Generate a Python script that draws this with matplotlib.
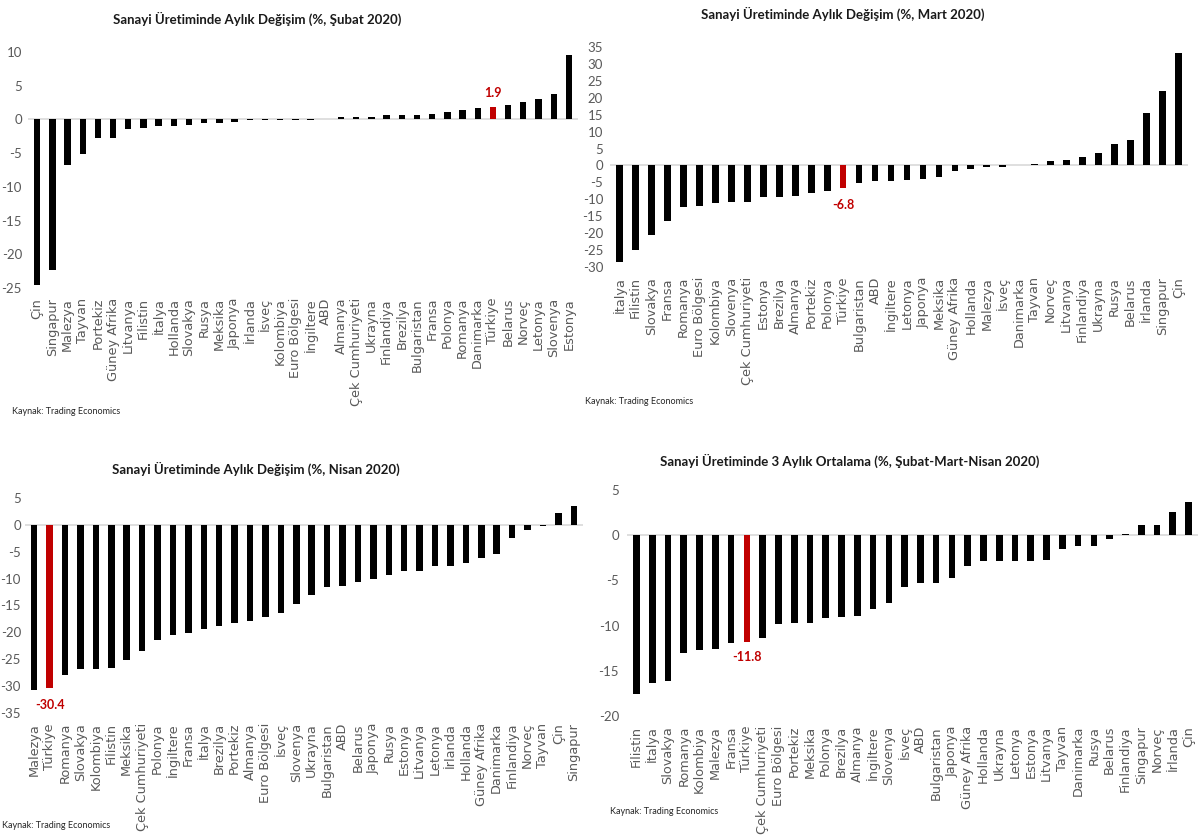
import numpy as np
import matplotlib
matplotlib.use('Agg')
import matplotlib.pyplot as plt

plt.rcParams['axes.unicode_minus'] = False

W, H = 1199, 836

# Şubat 2020
feb_names = ['Çin', 'Singapur', 'Malezya', 'Tayvan', 'Portekiz', 'Güney Afrika', 'Litvanya',
             'Filistin', 'İtalya', 'Hollanda', 'Slovakya', 'Rusya', 'Meksika', 'Japonya',
             'İrlanda', 'İsveç', 'Kolombiya', 'Euro Bölgesi', 'İngiltere', 'ABD', 'Almanya',
             'Çek Cumhuriyeti', 'Ukrayna', 'Finlandiya', 'Brezilya', 'Bulgaristan', 'Fransa',
             'Polonya', 'Romanya', 'Danimarka', 'Türkiye', 'Belarus', 'Norveç', 'Letonya',
             'Slovenya', 'Estonya']
feb_vals = [-24.5, -22.4, -6.7, -5.1, -2.8, -2.7, -1.4, -1.3, -1.0, -1.0, -0.9, -0.6, -0.6,
            -0.4, -0.1, -0.1, -0.1, -0.1, -0.1, 0.1, 0.3, 0.3, 0.3, 0.6, 0.6, 0.7, 0.8,
            1.1, 1.4, 1.7, 1.9, 2.2, 2.6, 3.0, 3.8, 9.5]

# Mart 2020
mar_names = ['İtalya', 'Filistin', 'Slovakya', 'Fransa', 'Romanya', 'Euro Bölgesi', 'Kolombiya',
             'Slovenya', 'Çek Cumhuriyeti', 'Estonya', 'Brezilya', 'Almanya', 'Portekiz',
             'Polonya', 'Türkiye', 'Bulgaristan', 'ABD', 'İngiltere', 'Letonya', 'Japonya',
             'Meksika', 'Güney Afrika', 'Hollanda', 'Malezya', 'İsveç', 'Danimarka', 'Tayvan',
             'Norveç', 'Litvanya', 'Finlandiya', 'Ukrayna', 'Rusya', 'Belarus', 'İrlanda',
             'Singapur', 'Çin']
mar_vals = [-28.6, -24.9, -20.5, -16.3, -12.4, -11.9, -11.1, -10.9, -10.9, -9.2, -9.2, -9.0,
            -8.0, -7.5, -6.8, -5.1, -4.6, -4.6, -4.3, -4.1, -3.5, -1.5, -1.1, -0.4, -0.4,
            0.0, 0.5, 1.3, 1.6, 2.5, 3.6, 6.2, 7.4, 15.4, 21.9, 33.3]

# Nisan 2020
apr_names = ['Malezya', 'Türkiye', 'Romanya', 'Slovakya', 'Kolombiya', 'Filistin', 'Meksika',
             'Çek Cumhuriyeti', 'Polonya', 'İngiltere', 'Fransa', 'İtalya', 'Brezilya',
             'Portekiz', 'Almanya', 'Euro Bölgesi', 'İsveç', 'Slovenya', 'Ukrayna',
             'Bulgaristan', 'ABD', 'Belarus', 'Japonya', 'Rusya', 'Estonya', 'Litvanya',
             'Letonya', 'İrlanda', 'Hollanda', 'Güney Afrika', 'Danimarka', 'Finlandiya',
             'Norveç', 'Tayvan', 'Çin', 'Singapur']
apr_vals = [-30.7, -30.4, -27.9, -26.8, -26.9, -26.7, -25.2, -23.4, -21.5, -20.5, -20.2, -19.3,
            -18.9, -18.3, -17.9, -17.2, -16.4, -14.7, -13.0, -11.6, -11.3, -10.7, -10.0, -9.4,
            -8.6, -8.5, -7.6, -7.6, -7.1, -6.2, -5.5, -2.4, -1.0, -0.2, 2.3, 3.5]

# 3 aylık ortalama
avg_names = ['Filistin', 'İtalya', 'Slovakya', 'Romanya', 'Kolombiya', 'Malezya', 'Fransa',
             'Türkiye', 'Çek Cumhuriyeti', 'Euro Bölgesi', 'Portekiz', 'Meksika', 'Polonya',
             'Brezilya', 'Almanya', 'İngiltere', 'Slovenya', 'İsveç', 'ABD', 'Bulgaristan',
             'Japonya', 'Güney Afrika', 'Hollanda', 'Ukrayna', 'Letonya', 'Estonya', 'Litvanya',
             'Tayvan', 'Danimarka', 'Rusya', 'Belarus', 'Finlandiya', 'Singapur', 'Norveç',
             'İrlanda', 'Çin']
avg_vals = [-17.6, -16.3, -16.1, -13.0, -12.7, -12.6, -11.9, -11.8, -11.4, -9.8, -9.7, -9.7,
            -9.2, -9.1, -8.9, -8.2, -7.5, -5.7, -5.3, -5.3, -4.7, -3.4, -2.9, -2.9, -2.85,
            -2.8, -2.7, -1.5, -1.2, -1.2, -0.45, 0.1, 1.1, 1.1, 2.6, 3.7]

RED = '#c00000'
GREY = '#595959'
TFONT = ['Liberation Sans Narrow', 'Lato', 'DejaVu Sans']

fig = plt.figure(figsize=(W / 100, H / 100), dpi=100)


def panel(box, names, vals, ylim, ystep, title, tpos, spos, lpad, ypad, noff):
    x0, top, x1, bot = box
    ax = fig.add_axes([x0 / W, 1 - bot / H, (x1 - x0) / W, (bot - top) / H])
    x = np.arange(len(names))
    cols = [RED if n == 'Türkiye' else 'black' for n in names]
    ax.bar(x, vals, width=0.42, color=cols, zorder=3)
    ax.axhline(0, color='#d9d9d9', lw=1.2, zorder=2)
    ax.set_xlim(-0.6, len(names) - 0.4)
    ax.set_ylim(*ylim)
    ax.set_yticks(np.arange(ylim[0], ylim[1] + 1, ystep))
    ax.set_xticks(x)
    ax.set_xticklabels(names, rotation=90)
    for lab in ax.get_xticklabels():
        lab.set_fontfamily('DejaVu Sans')
        lab.set_fontsize(9.3)
        lab.set_color(GREY)
    for lab in ax.get_yticklabels():
        lab.set_fontfamily(TFONT)
        lab.set_fontsize(9.5)
        lab.set_color(GREY)
    ax.tick_params(length=0)
    ax.tick_params(axis='x', pad=lpad * 0.72)
    ax.tick_params(axis='y', pad=ypad * 0.72)
    for s in ax.spines.values():
        s.set_visible(False)
    ax.patch.set_alpha(0)
    i = names.index('Türkiye')
    v = vals[i]
    ax.annotate(f'{v:.1f}', (i, v), xytext=(0, noff), textcoords='offset points',
                ha='center', va='center', color=RED, fontsize=9, fontweight='bold',
                family=TFONT)
    fig.text(tpos[0] / W, 1 - tpos[1] / H, title, ha='center', va='center',
             fontsize=9.5, fontweight='bold', family=TFONT, color='#1a1a1a')
    fig.text(spos[0] / W, 1 - spos[1] / H, 'Kaynak: Trading Economics', ha='left',
             va='center', fontsize=6.5, family=TFONT, color='#262626')
    return ax


panel((28, 52, 578, 288), feb_names, feb_vals, (-25, 10), 5,
      'Sanayi Üretiminde Aylık Değişim (%, Şubat 2020)', (257, 19), (12, 412), 10, 6, 10)
panel((610, 47, 1188, 267), mar_names, mar_vals, (-30, 35), 5,
      'Sanayi Üretiminde Aylık Değişim (%, Mart 2020)', (843, 14), (585, 402), 10, 7, -12)
panel((25, 498, 583, 713), apr_names, apr_vals, (-35, 5), 5,
      'Sanayi Üretiminde Aylık Değişim (%, Nisan 2020)', (256, 469), (2, 826), 10, 4, -12)
panel((627, 490, 1198, 716), avg_names, avg_vals, (-20, 5), 5,
      'Sanayi Üretiminde 3 Aylık Ortalama (%, Şubat-Mart-Nisan 2020)', (850, 461), (610, 811),
      10, 8, -11)

fig.savefig('out.png', dpi=100, facecolor='white')
